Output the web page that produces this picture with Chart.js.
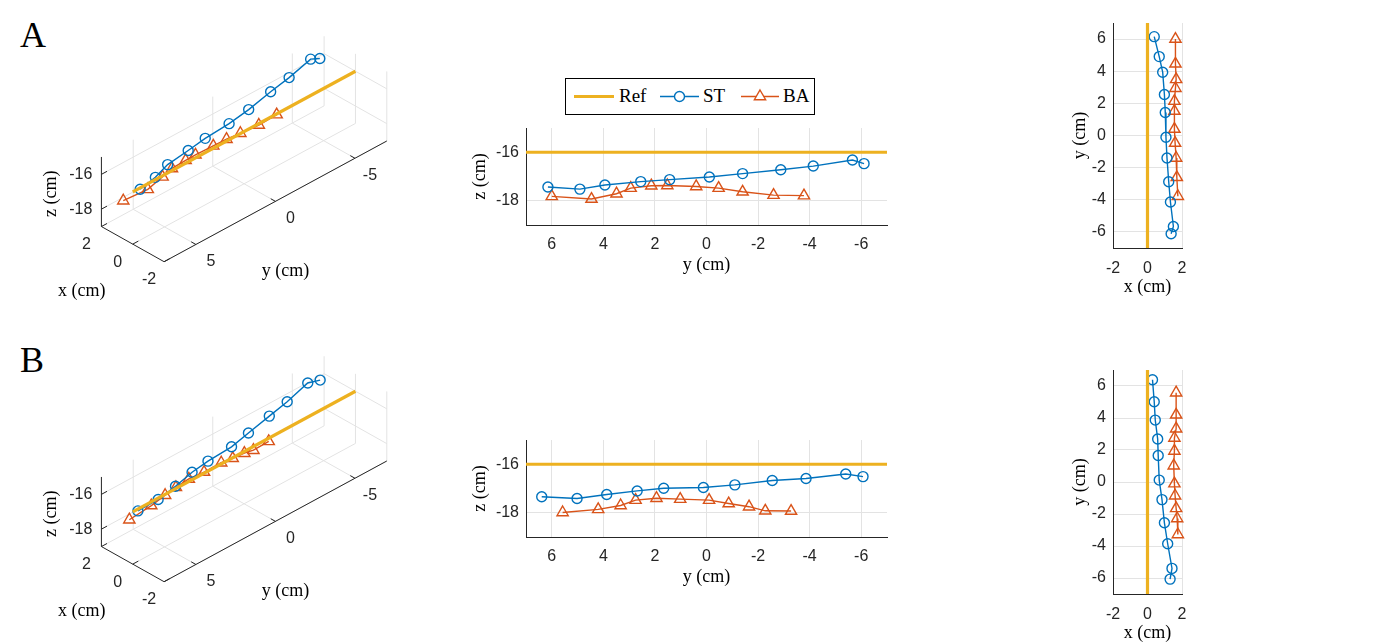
<!DOCTYPE html>
<html>
<head>
<meta charset="utf-8">
<script src="https://cdn.jsdelivr.net/npm/chart.js@4.4.1/dist/chart.umd.min.js"></script>
<style>
  body { margin: 0; background: #fff; width: 1375px; height: 642px; overflow: hidden; position: relative; }
  .pane { position: absolute; }
  .letter { position: absolute; font-family: "Liberation Serif", serif; font-size: 36px; line-height: 36px; color: #000; }
  #legend { position: absolute; left: 565px; top: 78px; width: 248px; height: 35px; border: 1.5px solid #000; background: #fff;
            font-family: "Liberation Serif", serif; font-size: 19px; color: #000; }
  #legend span { position: absolute; top: 6px; }
</style>
</head>
<body>
<div class="letter" style="left:20px; top:17px">A</div>
<div class="letter" style="left:20px; top:342px">B</div>

<div class="pane" id="p3dA"><canvas></canvas></div>
<div class="pane" id="p3dB"><canvas></canvas></div>
<div class="pane" id="pyzA"><canvas></canvas></div>
<div class="pane" id="pyzB"><canvas></canvas></div>
<div class="pane" id="pxyA"><canvas></canvas></div>
<div class="pane" id="pxyB"><canvas></canvas></div>
<div id="legend"></div>

<script>
// ---- data (cm) ----
const seriesNames = ['Ref', 'ST', 'BA'];

// reference path: x = 0, z = -16, along y
const refY = [7, -7];
const refX = 0;
const refZ = -16;

// panel A
const stY_A = [6.15, 4.91, 3.94, 2.55, 1.43, -0.11, -1.40, -2.88, -4.14, -5.66, -6.11];
const stX_A = [0.39, 0.68, 0.88, 0.98, 1.03, 1.07, 1.13, 1.23, 1.33, 1.50, 1.37];
const stZ_A = [-17.43, -17.52, -17.35, -17.21, -17.13, -17.02, -16.88, -16.72, -16.57, -16.32, -16.47];
const stZ3d_A = [-16.46, -16.54, -16.39, -16.32, -16.20, -16.14, -16.00, -15.76, -15.62, -15.40, -15.52];
const baY_A = [6.00, 4.46, 3.49, 2.94, 2.14, 1.52, 0.40, -0.47, -1.40, -2.60, -3.78];
const baX_A = [1.62, 1.62, 1.66, 1.62, 1.56, 1.56, 1.56, 1.60, 1.66, 1.70, 1.76];
const baZ_A = [-17.82, -17.93, -17.71, -17.48, -17.38, -17.37, -17.41, -17.48, -17.63, -17.77, -17.79];

// panel B
const stY_B = [6.39, 5.02, 3.87, 2.69, 1.66, 0.12, -1.10, -2.55, -3.86, -5.40, -6.07];
const stX_B = [0.29, 0.39, 0.45, 0.59, 0.62, 0.68, 0.84, 0.98, 1.17, 1.42, 1.31];
const stZ_B = [-17.34, -17.41, -17.25, -17.10, -16.99, -16.96, -16.85, -16.67, -16.59, -16.40, -16.51];
const stZ3d_B = [-16.39, -16.46, -16.30, -16.15, -16.04, -16.01, -15.90, -15.72, -15.64, -15.45, -15.56];
const baY_B = [5.58, 4.20, 3.33, 2.75, 1.94, 1.02, -0.10, -0.86, -1.65, -2.28, -3.28];
const baX_B = [1.66, 1.66, 1.66, 1.56, 1.56, 1.52, 1.56, 1.60, 1.66, 1.72, 1.76];
const baZ_B = [-17.99, -17.86, -17.70, -17.48, -17.40, -17.44, -17.48, -17.62, -17.75, -17.92, -17.93];

// axis limits and ticks
const xLim = [-2, 2], yLim = [-7, 7], zLim = [-19, -15];
const xTicks = [-2, 0, 2];
const yTicks = [6, 4, 2, 0, -2, -4, -6];
const yTicksXY = [-6, -4, -2, 0, 2, 4, 6];
const zTicks = [-16, -18];
const xTicks3d = [2, 0, -2];
const yTicks3d = [5, 0, -5];

// ---- styles ----
const REF_COLOR = '#EDB120', ST_COLOR = '#0072BD', BA_COLOR = '#D95319';
const AXIS_COLOR = '#262626', GRID_COLOR = '#e3e3e3';
const TICK_FONT = { family: 'Liberation Sans, Arial, sans-serif', size: 16 };
const TITLE_FONT = { family: 'Liberation Serif, Times New Roman, serif', size: 18 };

Chart.defaults.animation = false;
Chart.defaults.events = [];
Chart.defaults.plugins.legend.display = false;
Chart.defaults.plugins.tooltip.enabled = false;

function pts(a, b) { return a.map((v, i) => ({ x: v, y: b[i] })); }

function refSet(data) {
  return { label: 'Ref', data, showLine: true, borderColor: REF_COLOR, borderWidth: 3.2,
           pointRadius: 0, clip: false };
}
function stSet(data) {
  return { label: 'ST', data, showLine: true, borderColor: ST_COLOR, borderWidth: 1.4,
           pointStyle: 'circle', pointRadius: 5, pointBorderWidth: 1.4,
           pointBorderColor: ST_COLOR, pointBackgroundColor: 'rgba(0,0,0,0)', clip: false };
}
function baSet(data) {
  return { label: 'BA', data, showLine: true, borderColor: BA_COLOR, borderWidth: 1.4,
           pointStyle: 'triangle', pointRadius: 6.5, pointBorderWidth: 1.4,
           pointBorderColor: BA_COLOR, pointBackgroundColor: 'rgba(0,0,0,0)', clip: false };
}

function place(id, left, top, w, h) {
  const d = document.getElementById(id);
  d.style.left = left + 'px'; d.style.top = top + 'px';
  d.style.width = w + 'px'; d.style.height = h + 'px';
  return d.querySelector('canvas');
}

// 2D axes; area = chart area in page pixels
function axis(min, max, ticks, title, fitKey, fitVal, pad, reverse) {
  return {
    type: 'linear', min, max, reverse: !!reverse,
    afterBuildTicks: s => { s.ticks = ticks.map(v => ({ value: v })); },
    afterFit: s => {
      s[fitKey] = fitVal;
      s.paddingTop = 0; s.paddingBottom = 0; s.paddingLeft = 0; s.paddingRight = 0;
    },
    ticks: { font: TICK_FONT, color: AXIS_COLOR, padding: pad, maxRotation: 0, callback: v => String(v) },
    grid: { color: GRID_COLOR, drawTicks: false, lineWidth: 1 },
    border: { display: true, color: AXIS_COLOR, width: 1 },
    title: { display: true, text: title, font: TITLE_FONT, color: '#000', padding: { top: 2, bottom: 2 } }
  };
}

function plot2d(id, area, o) {
  const padL = o.yW + 6, padT = 8, padR = 10, padB = o.xH + 4;
  const cv = place(id, area.left - padL, area.top - padT, area.w + padL + padR, area.h + padT + padB);
  return new Chart(cv, {
    type: 'scatter',
    data: { datasets: o.datasets },
    options: {
      responsive: true, maintainAspectRatio: false,
      layout: { padding: { left: 6, top: padT, right: padR, bottom: 4 } },
      scales: {
        x: axis(o.xMin, o.xMax, o.xTicks, o.xTitle, 'height', o.xH, o.xPad, o.xRev),
        y: axis(o.yMin, o.yMax, o.yTicks, o.yTitle, 'width', o.yW, o.yPad, false)
      }
    }
  });
}

// ---- 3D view (fixed oblique view, pixels per cm) ----
function proj(x, y, z) {
  return {
    x: 97 + (2 - x) * 16.25 + (7 - y) * 16.5,
    y: 230 + (2 - x) * 9.25 - (7 - y) * 9.07 - (z + 19) * 18.3
  };
}
function pts3(xs, ys, zs) {
  return ys.map((y, i) => proj(Array.isArray(xs) ? xs[i] : xs, y, Array.isArray(zs) ? zs[i] : zs));
}

const axes3d = {
  id: 'axes3d',
  beforeDatasetsDraw(chart) {
    const ctx = chart.ctx, sx = chart.scales.x, sy = chart.scales.y;
    const P = (x, y, z) => { const p = proj(x, y, z); return [sx.getPixelForValue(p.x), sy.getPixelForValue(p.y)]; };
    const seg = (a, b, color, w) => {
      ctx.beginPath(); ctx.moveTo(a[0], a[1]); ctx.lineTo(b[0], b[1]);
      ctx.strokeStyle = color; ctx.lineWidth = w; ctx.stroke();
    };
    const [x0, x1] = xLim, [y0, y1] = yLim, [z0, z1] = zLim;
    ctx.save();
    // grid on the floor and the two back walls
    yTicks3d.forEach(y => {
      seg(P(x1, y, z0), P(x0, y, z0), GRID_COLOR, 1);
      seg(P(x1, y, z0), P(x1, y, z1), GRID_COLOR, 1);
    });
    xTicks3d.forEach(x => {
      seg(P(x, y1, z0), P(x, y0, z0), GRID_COLOR, 1);
      seg(P(x, y0, z0), P(x, y0, z1), GRID_COLOR, 1);
    });
    zTicks.forEach(z => {
      seg(P(x1, y1, z), P(x1, y0, z), GRID_COLOR, 1);
      seg(P(x1, y0, z), P(x0, y0, z), GRID_COLOR, 1);
    });
    // axis lines
    seg(P(x1, y1, z0), P(x1, y1, z1), AXIS_COLOR, 1);
    seg(P(x1, y1, z0), P(x0, y1, z0), AXIS_COLOR, 1);
    seg(P(x0, y1, z0), P(x0, y0, z0), AXIS_COLOR, 1);
    // tick marks
    zTicks.forEach(z => seg(P(x1, y1, z), P(x1, y1 - 0.35, z), AXIS_COLOR, 1));
    xTicks3d.forEach(x => seg(P(x, y1, z0), P(x, y1 - 0.35, z0), AXIS_COLOR, 1));
    yTicks3d.forEach(y => seg(P(x0, y, z0), P(x0 + 0.3, y, z0), AXIS_COLOR, 1));
    // tick labels
    ctx.fillStyle = AXIS_COLOR;
    ctx.font = TICK_FONT.size + 'px ' + TICK_FONT.family;
    ctx.textBaseline = 'middle';
    ctx.textAlign = 'right';
    zTicks.forEach(z => { const p = P(x1, y1, z); ctx.fillText(String(z), p[0] - 9, p[1]); });
    ctx.textAlign = 'center';
    xTicks3d.forEach(x => { const p = P(x, y1, z0); ctx.fillText(String(x), p[0] - 15, p[1] + 18); });
    yTicks3d.forEach(y => { const p = P(x0, y, z0); ctx.fillText(String(y), p[0] + 15, p[1] + 17); });
    // axis titles
    ctx.fillStyle = '#000';
    ctx.font = TITLE_FONT.size + 'px ' + TITLE_FONT.family;
    let p = P(0, y1, z0); ctx.fillText('x (cm)', p[0] - 51, p[1] + 47);
    p = P(x0, 0, z0); ctx.fillText('y (cm)', p[0] + 10, p[1] + 70);
    p = P(x1, y1, (z0 + z1) / 2);
    ctx.translate(p[0] - 50, p[1] + 2); ctx.rotate(-Math.PI / 2); ctx.fillText('z (cm)', 0, 0);
    ctx.restore();
  }
};

function plot3d(id, top, stX, stY, stZ, baX, baY, baZ) {
  const W = 440, H = 320;
  const cv = place(id, 0, top, W, H);
  return new Chart(cv, {
    type: 'scatter',
    data: { datasets: [
      refSet(pts3(refX, refY, refZ)),
      stSet(pts3(stX, stY, stZ)),
      baSet(pts3(baX, baY, baZ))
    ] },
    options: {
      responsive: true, maintainAspectRatio: false,
      layout: { padding: 0 },
      scales: {
        x: { type: 'linear', display: false, min: 0, max: W },
        y: { type: 'linear', display: false, min: 0, max: H, reverse: true }
      }
    },
    plugins: [axes3d]
  });
}

plot3d('p3dA', 0, stX_A, stY_A, stZ3d_A, baX_A, baY_A, baZ_A);
plot3d('p3dB', 320, stX_B, stY_B, stZ3d_B, baX_B, baY_B, baZ_B);

// y-z side views
function yzView(id, area, stY, stZ, baY, baZ) {
  return plot2d(id, area, {
    datasets: [refSet(pts(refY, [refZ, refZ])), stSet(pts(stY, stZ)), baSet(pts(baY, baZ))],
    xMin: yLim[0], xMax: yLim[1], xTicks: yTicks, xTitle: 'y (cm)', xRev: true, xH: 53, xPad: 10,
    yMin: zLim[0], yMax: zLim[1], yTicks: zTicks, yTitle: 'z (cm)', yW: 59, yPad: 7
  });
}
yzView('pyzA', { left: 526, top: 128, w: 361, h: 97 }, stY_A, stZ_A, baY_A, baZ_A);
yzView('pyzB', { left: 526, top: 440, w: 361, h: 97 }, stY_B, stZ_B, baY_B, baZ_B);

// x-y top views
function xyView(id, area, stX, stY, baX, baY) {
  return plot2d(id, area, {
    datasets: [refSet(pts([refX, refX], refY)), stSet(pts(stX, stY)), baSet(pts(baX, baY))],
    xMin: xLim[0], xMax: xLim[1], xTicks: xTicks, xTitle: 'x (cm)', xRev: false, xH: 52, xPad: 11,
    yMin: yLim[0], yMax: yLim[1], yTicks: yTicksXY, yTitle: 'y (cm)', yW: 46, yPad: 7
  });
}
xyView('pxyA', { left: 1113, top: 23, w: 69, h: 225 }, stX_A, stY_A, baX_A, baY_A);
xyView('pxyB', { left: 1113, top: 370, w: 69, h: 224 }, stX_B, stY_B, baX_B, baY_B);

// legend
(function () {
  const lg = document.getElementById('legend');
  const NS = 'http://www.w3.org/2000/svg';
  const svg = document.createElementNS(NS, 'svg');
  svg.setAttribute('width', 248); svg.setAttribute('height', 35);
  svg.style.position = 'absolute'; svg.style.left = '0'; svg.style.top = '0';
  lg.appendChild(svg);
  const el = (tag, attrs) => { const e = document.createElementNS(NS, tag); for (const k in attrs) e.setAttribute(k, attrs[k]); svg.appendChild(e); return e; };
  const cy = 17.5;
  const items = [
    { x0: 8, x1: 48, color: REF_COLOR, w: 3.2, marker: null, tx: 53 },
    { x0: 94, x1: 133, color: ST_COLOR, w: 1.4, marker: 'circle', tx: 137 },
    { x0: 175, x1: 213, color: BA_COLOR, w: 1.4, marker: 'triangle', tx: 217 }
  ];
  items.forEach((it, i) => {
    el('line', { x1: it.x0, y1: cy, x2: it.x1, y2: cy, stroke: it.color, 'stroke-width': it.w });
    const mx = (it.x0 + it.x1) / 2;
    if (it.marker === 'circle') el('circle', { cx: mx, cy, r: 5, fill: '#fff', stroke: it.color, 'stroke-width': 1.4 });
    if (it.marker === 'triangle') {
      const r = 6.5;
      el('polygon', { points: `${mx},${cy - r} ${mx + r * 0.866},${cy + r / 2} ${mx - r * 0.866},${cy + r / 2}`,
                      fill: '#fff', stroke: it.color, 'stroke-width': 1.4 });
    }
    const s = document.createElement('span');
    s.textContent = seriesNames[i];
    s.style.left = it.tx + 'px';
    lg.appendChild(s);
  });
})();
</script>
</body>
</html>
